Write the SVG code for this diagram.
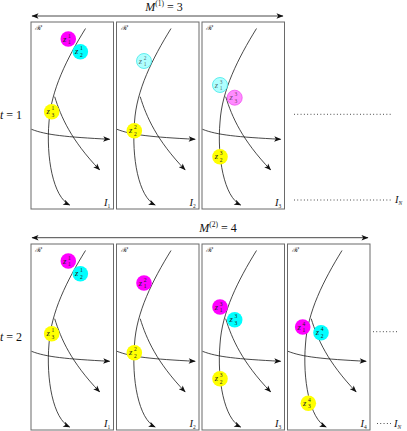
<svg xmlns="http://www.w3.org/2000/svg" xmlns:xlink="http://www.w3.org/1999/xlink" width="407" height="431" viewBox="0 0 407 431">
<style>
.frame{fill:#fff;stroke:#6a6a6a;stroke-width:1}
.traj{fill:none;stroke:#1a1a1a;stroke-width:0.8}
.axis{fill:none;stroke:#333;stroke-width:0.9}
.dots{fill:none;stroke:#222;stroke-width:0.9;stroke-dasharray:0.9 2.4}
.m{font-family:"Liberation Serif","DejaVu Serif",serif;fill:#111}
.it{font-style:italic}
.lbl{font-size:12px}
.z{font-family:"Liberation Serif","DejaVu Serif",serif;font-style:italic;font-size:8.5px;fill:#222}
.s{font-family:"Liberation Serif","DejaVu Serif",serif;font-size:5.5px;fill:#222}
.cal{font-family:"DejaVu Serif",serif;font-style:italic;font-size:7px;fill:#222}
.mag{fill:#ff00ff}
.cya{fill:#00ffff}
.yel{fill:#ffff00}
.lcya{fill:#b0ffff;stroke:#40e8e8;stroke-width:0.8}
.pink{fill:#ff8cff;stroke:#f050f0;stroke-width:0.8}
</style>
<defs>
<marker id="ah" viewBox="-7 -3 8 6" refX="0" refY="0" markerWidth="8" markerHeight="6" markerUnits="userSpaceOnUse" orient="auto-start-reverse">
<path d="M0.5,0 L-6.5,-2.7 L-4.8,0 L-6.5,2.7 Z" fill="#111"/>
</marker>
<g id="traj">
<path class="traj" d="M54.5,6.5 C36,36.5 20,68 18,100 C15,135 22,175 38.7,183" marker-end="url(#ah)"/>
<path class="traj" d="M23.7,74.7 C30,95 40,118 68.7,148" marker-end="url(#ah)"/>
<path class="traj" d="M0.5,107.3 C15,113 35,115 78.7,117.3" marker-end="url(#ah)"/>
</g>
</defs>

<!-- row 1 axis -->
<g id="axis1">
<line class="axis" x1="32" y1="16" x2="283" y2="16" marker-start="url(#ah)" marker-end="url(#ah)"/>
<text class="m lbl" x="164" y="10.5" text-anchor="middle"><tspan class="it">M</tspan><tspan font-size="7.5" dy="-4.5">(1)</tspan><tspan dy="4.5"> = 3</tspan></text>
</g>
<text class="m lbl" x="0" y="118.5"><tspan class="it">t</tspan> = 1</text>

<!-- row 2 axis -->
<g id="axis2">
<line class="axis" x1="32" y1="237.7" x2="368" y2="237.7" marker-start="url(#ah)" marker-end="url(#ah)"/>
<text class="m lbl" x="218" y="231.5" text-anchor="middle"><tspan class="it">M</tspan><tspan font-size="7.5" dy="-4.5">(2)</tspan><tspan dy="4.5"> = 4</tspan></text>
</g>
<text class="m lbl" x="0" y="340.5"><tspan class="it">t</tspan> = 2</text>

<!-- frames row 1 -->
<g id="f1_1">
<rect class="frame" x="31" y="22" width="82.5" height="187"/>
<text class="cal" x="35" y="30">ℛ</text>
<text class="m it" font-size="10.5" x="104" y="206">I<tspan class="s" font-style="normal" font-size="7" dy="2">1</tspan></text>
</g>
<g id="f1_2">
<rect class="frame" x="116.5" y="22" width="82.5" height="187"/>
<text class="cal" x="120.5" y="30">ℛ</text>
<text class="m it" font-size="10.5" x="189.5" y="206">I<tspan class="s" font-style="normal" font-size="7" dy="2">2</tspan></text>
</g>
<g id="f1_3">
<rect class="frame" x="202" y="22" width="82.5" height="187"/>
<text class="cal" x="206" y="30">ℛ</text>
<text class="m it" font-size="10.5" x="275" y="206">I<tspan class="s" font-style="normal" font-size="7" dy="2">3</tspan></text>
</g>

<!-- frames row 2 -->
<g id="f2_1">
<rect class="frame" x="31" y="244" width="82.5" height="186"/>
<text class="cal" x="35" y="252">ℛ</text>
<text class="m it" font-size="10.5" x="104" y="427">I<tspan class="s" font-style="normal" font-size="7" dy="2">1</tspan></text>
</g>
<g id="f2_2">
<rect class="frame" x="116.5" y="244" width="82.5" height="186"/>
<text class="cal" x="120.5" y="252">ℛ</text>
<text class="m it" font-size="10.5" x="189.5" y="427">I<tspan class="s" font-style="normal" font-size="7" dy="2">2</tspan></text>
</g>
<g id="f2_3">
<rect class="frame" x="202" y="244" width="82.5" height="186"/>
<text class="cal" x="206" y="252">ℛ</text>
<text class="m it" font-size="10.5" x="275" y="427">I<tspan class="s" font-style="normal" font-size="7" dy="2">3</tspan></text>
</g>
<g id="f2_4">
<rect class="frame" x="287.5" y="244" width="82.5" height="186"/>
<text class="cal" x="291.5" y="252">ℛ</text>
<text class="m it" font-size="10.5" x="360.5" y="427">I<tspan class="s" font-style="normal" font-size="7" dy="2">4</tspan></text>
</g>

<!-- connectors / trajectories -->
<g id="connectors">
<use xlink:href="#traj" href="#traj" transform="translate(31,22)"/>
<use xlink:href="#traj" href="#traj" transform="translate(116.5,22)"/>
<use xlink:href="#traj" href="#traj" transform="translate(202,22)"/>
<use xlink:href="#traj" href="#traj" transform="translate(31,244)"/>
<use xlink:href="#traj" href="#traj" transform="translate(116.5,244)"/>
<use xlink:href="#traj" href="#traj" transform="translate(202,244)"/>
<use xlink:href="#traj" href="#traj" transform="translate(287.5,244)"/>
</g>

<!-- observations row 1 -->
<g id="z1_1_1"><circle class="mag" cx="68.3" cy="39" r="7.8"/><text class="z" x="63" y="41.5">z</text><text class="s" x="68" y="37.5">1</text><text class="s" x="68" y="44">1</text></g>
<g id="z1_1_2"><circle class="cya" cx="80.3" cy="51.7" r="7.8"/><text class="z" x="75" y="54.2">z</text><text class="s" x="80" y="50.2">1</text><text class="s" x="80" y="56.7">2</text></g>
<g id="z1_1_3"><circle class="yel" cx="51.7" cy="111.7" r="7.8"/><text class="z" x="46.4" y="114.2">z</text><text class="s" x="51.4" y="110.2">1</text><text class="s" x="51.4" y="116.7">3</text></g>

<g id="z1_2_1"><circle class="lcya" cx="144" cy="61" r="7.5"/><text class="z" x="138.7" y="63.5" fill-opacity="0.7">z</text><text class="s" x="143.7" y="59.5" fill-opacity="0.7">2</text><text class="s" x="143.7" y="66" fill-opacity="0.7">1</text></g>
<g id="z1_2_2"><circle class="yel" cx="134.3" cy="130.7" r="7.8"/><text class="z" x="129" y="133.2">z</text><text class="s" x="134" y="129.2">2</text><text class="s" x="134" y="135.7">2</text></g>

<g id="z1_3_1"><circle class="lcya" cx="220" cy="85" r="7.5"/><text class="z" x="214.7" y="87.5" fill-opacity="0.7">z</text><text class="s" x="219.7" y="83.5" fill-opacity="0.7">3</text><text class="s" x="219.7" y="90" fill-opacity="0.7">1</text></g>
<g id="z1_3_3"><circle class="pink" cx="234.7" cy="97.7" r="7.5"/><text class="z" x="229.4" y="100.2" fill-opacity="0.7">z</text><text class="s" x="234.4" y="96.2" fill-opacity="0.7">3</text><text class="s" x="234.4" y="102.7" fill-opacity="0.7">3</text></g>
<g id="z1_3_2"><circle class="yel" cx="220" cy="156.7" r="7.8"/><text class="z" x="214.7" y="159.2">z</text><text class="s" x="219.7" y="155.2">3</text><text class="s" x="219.7" y="161.7">2</text></g>

<!-- observations row 2 -->
<g id="z2_1_1"><circle class="mag" cx="68.3" cy="261" r="7.8"/><text class="z" x="63" y="263.5">z</text><text class="s" x="68" y="259.5">1</text><text class="s" x="68" y="266">1</text></g>
<g id="z2_1_2"><circle class="cya" cx="80.3" cy="273.7" r="7.8"/><text class="z" x="75" y="276.2">z</text><text class="s" x="80" y="272.2">1</text><text class="s" x="80" y="278.7">2</text></g>
<g id="z2_1_3"><circle class="yel" cx="51.7" cy="333.7" r="7.8"/><text class="z" x="46.4" y="336.2">z</text><text class="s" x="51.4" y="332.2">1</text><text class="s" x="51.4" y="338.7">3</text></g>

<g id="z2_2_1"><circle class="mag" cx="144" cy="283" r="7.8"/><text class="z" x="138.7" y="285.5">z</text><text class="s" x="143.7" y="281.5">2</text><text class="s" x="143.7" y="288">1</text></g>
<g id="z2_2_2"><circle class="yel" cx="134.3" cy="352.7" r="7.8"/><text class="z" x="129" y="355.2">z</text><text class="s" x="134" y="351.2">2</text><text class="s" x="134" y="357.7">2</text></g>

<g id="z2_3_1"><circle class="mag" cx="220" cy="307" r="7.8"/><text class="z" x="214.7" y="309.5">z</text><text class="s" x="219.7" y="305.5">3</text><text class="s" x="219.7" y="312">1</text></g>
<g id="z2_3_3"><circle class="cya" cx="234.7" cy="319.7" r="7.8"/><text class="z" x="229.4" y="322.2">z</text><text class="s" x="234.4" y="318.2">3</text><text class="s" x="234.4" y="324.7">3</text></g>
<g id="z2_3_2"><circle class="yel" cx="220" cy="378.7" r="7.8"/><text class="z" x="214.7" y="381.2">z</text><text class="s" x="219.7" y="377.2">3</text><text class="s" x="219.7" y="383.7">2</text></g>

<g id="z2_4_1"><circle class="mag" cx="302.7" cy="327" r="7.8"/><text class="z" x="297.4" y="329.5">z</text><text class="s" x="302.4" y="325.5">4</text><text class="s" x="302.4" y="332">1</text></g>
<g id="z2_4_2"><circle class="cya" cx="321" cy="332.7" r="7.8"/><text class="z" x="315.7" y="335.2">z</text><text class="s" x="320.7" y="331.2">4</text><text class="s" x="320.7" y="337.7">2</text></g>
<g id="z2_4_3"><circle class="yel" cx="308.3" cy="403.3" r="7.8"/><text class="z" x="303" y="405.8">z</text><text class="s" x="308" y="401.8">4</text><text class="s" x="308" y="408.3">3</text></g>

<!-- ellipses -->
<g id="ellipsis">
<line class="dots" x1="294" y1="114.3" x2="392" y2="114.3"/>
<line class="dots" x1="294" y1="200" x2="392" y2="200"/>
<text class="m it" font-size="10.5" x="395" y="203">I<tspan class="s" font-style="italic" font-size="7" dy="2">N</tspan></text>
<line class="dots" x1="373" y1="331.7" x2="399" y2="331.7"/>
<line class="dots" x1="377" y1="423.5" x2="391" y2="423.5"/>
<text class="m it" font-size="10.5" x="394" y="427">I<tspan class="s" font-style="italic" font-size="7" dy="2">N</tspan></text>
</g>
</svg>
